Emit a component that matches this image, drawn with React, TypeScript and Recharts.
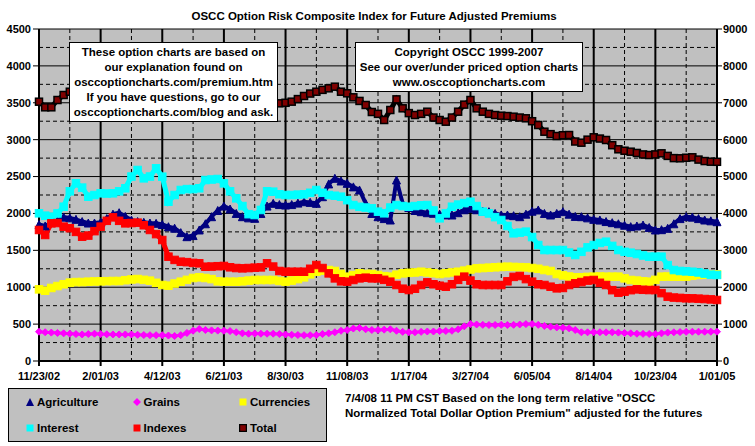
import React from 'react';
import { LineChart, Line, XAxis, YAxis, CartesianGrid } from 'recharts';

// Week index 0..110 (weekly, 11/23/02 .. 1/01/05); labels every 10 weeks
const tickLabels = ['11/23/02', '2/01/03', '4/12/03', '6/21/03', '8/30/03', '11/08/03', '1/17/04', '3/27/04', '6/05/04', '8/14/04', '10/23/04', '1/01/05'];

const agriculture = [
  1850, 1830, 1880, 1900, 1950, 1940, 1920, 1890, 1870, 1870,
  1880, 1930, 1990, 2010, 1960, 1910, 1890, 1880, 1870, 1866,
  1850, 1820, 1800, 1740, 1685, 1700, 1776, 1860, 1956, 2040,
  2100, 2060, 2000, 1956, 1940, 1934, 2000, 2100, 2137, 2120,
  2114, 2120, 2140, 2159, 2150, 2137, 2227, 2400, 2476, 2440,
  2408, 2360, 2318, 2137, 2000, 1956, 1930, 1911, 2453, 2137,
  2080, 2040, 2024, 2010, 2002, 1990, 1980, 1979, 2010, 2050,
  2069, 2050, 2030, 2024, 2000, 1980, 1979, 1970, 1956, 1990,
  2030, 2047, 2000, 1979, 2000, 2024, 1990, 1960, 1956, 1940,
  1920, 1910, 1890, 1875, 1860, 1840, 1821, 1830, 1843, 1810,
  1776, 1780, 1798, 1860, 1930, 1956, 1950, 1930, 1911, 1900,
  1888,
];

const grains = [
  397, 390, 385, 380, 375, 370, 365, 360, 365, 370,
  365, 362, 360, 360, 360, 360, 355, 352, 350, 350,
  350, 345, 339, 350, 380, 410, 434, 420, 415, 412,
  410, 405, 390, 375, 370, 372, 370, 370, 370, 365,
  360, 355, 352, 350, 350, 352, 365, 375, 390, 410,
  420, 440, 447, 430, 420, 420, 425, 430, 410, 395,
  389, 390, 395, 400, 400, 405, 407, 410, 430, 470,
  501, 495, 490, 488, 488, 490, 488, 490, 495, 500,
  501, 490, 475, 465, 455, 450, 443, 420, 389, 389,
  390, 390, 389, 389, 385, 380, 375, 370, 368, 366,
  366, 375, 385, 389, 392, 395, 397, 397, 397, 397,
  397,
];

const currencies = [
  971, 953, 990, 1016, 1040, 1062, 1070, 1070, 1075, 1078,
  1080, 1082, 1084, 1084, 1095, 1105, 1111, 1100, 1089, 1060,
  1030, 1021, 1050, 1075, 1100, 1125, 1134, 1125, 1110, 1080,
  1075, 1075, 1075, 1080, 1090, 1098, 1098, 1098, 1098, 1085,
  1075, 1090, 1110, 1134, 1175, 1210, 1225, 1233, 1220, 1180,
  1143, 1165, 1188, 1180, 1179, 1166, 1150, 1143, 1170, 1188,
  1195, 1200, 1210, 1200, 1190, 1179, 1190, 1200, 1210, 1225,
  1240, 1256, 1260, 1265, 1270, 1275, 1278, 1275, 1272, 1269,
  1260, 1250, 1233, 1220, 1179, 1160, 1145, 1134, 1135, 1140,
  1143, 1145, 1143, 1143, 1143, 1120, 1098, 1090, 1080, 1075,
  1100, 1143, 1145, 1143, 1143, 1143, 1155, 1166, 1170, 1172,
  1175,
];

const interest = [
  2002, 1970, 1956, 2000, 2091, 2300, 2408, 2350, 2227, 2250,
  2273, 2270, 2273, 2300, 2341, 2500, 2589, 2476, 2500, 2612,
  2498, 2159, 2250, 2318, 2330, 2330, 2341, 2453, 2460, 2467,
  2408, 2300, 2205, 2100, 1990, 1979, 2047, 2300, 2295, 2260,
  2250, 2250, 2255, 2259, 2280, 2318, 2280, 2250, 2240, 2227,
  2180, 2114, 2090, 2080, 2069, 2024, 2002, 2080, 2114, 2100,
  2091, 2100, 2110, 2114, 2040, 1934, 2000, 2091, 2120, 2140,
  2159, 2100, 2024, 2000, 1950, 1911, 1830, 1731, 1740, 1753,
  1680, 1572, 1504, 1504, 1504, 1504, 1470, 1437, 1480, 1540,
  1572, 1600, 1617, 1560, 1504, 1480, 1468, 1450, 1430, 1414,
  1414, 1414, 1300, 1233, 1220, 1215, 1210, 1200, 1185, 1170,
  1166,
];

const indexes = [
  1776, 1708, 1866, 1870, 1821, 1800, 1750, 1685, 1700, 1760,
  1821, 1900, 1947, 1900, 1866, 1870, 1875, 1840, 1776, 1720,
  1640, 1414, 1370, 1346, 1340, 1330, 1324, 1278, 1280, 1285,
  1288, 1270, 1260, 1256, 1260, 1265, 1269, 1324, 1280, 1220,
  1210, 1210, 1210, 1210, 1250, 1301, 1260, 1188, 1120, 1080,
  1075, 1098, 1120, 1129, 1120, 1120, 1100, 1075, 1030, 980,
  962, 980, 1030, 1066, 1040, 1020, 1007, 1040, 1100, 1143,
  1090, 1040, 1030, 1030, 1030, 1030, 1080, 1140, 1152, 1110,
  1075, 1040, 1030, 1007, 985, 990, 1030, 1053, 1070, 1090,
  1098, 1060, 1030, 960, 926, 940, 960, 971, 965, 962,
  962, 920, 872, 860, 855, 850, 849, 845, 840, 835,
  827,
];

const total = [
  7029, 6877, 6877, 7075, 7211, 7300, 7280, 7260, 7240, 7200,
  7180, 7150, 7120, 7100, 7080, 7060, 7040, 7020, 7010, 7000,
  7000, 7000, 7020, 7040, 7060, 7050, 7040, 7020, 7000, 6990,
  6980, 6990, 7000, 7010, 7000, 6990, 6985, 6985, 6985, 6985,
  7000, 7030, 7100, 7184, 7250, 7300, 7350, 7392, 7436, 7300,
  7257, 7148, 7050, 6940, 6750, 6700, 6533, 6804, 7093, 6850,
  6720, 6668, 6700, 6758, 6600, 6533, 6487, 6600, 6758, 6950,
  7075, 6850, 6758, 6700, 6668, 6650, 6640, 6623, 6600, 6579,
  6500, 6397, 6216, 6150, 6099, 6120, 6126, 5950, 5918, 6000,
  6064, 6030, 5991, 5850, 5739, 5700, 5674, 5640, 5600, 5584,
  5600, 5630, 5560, 5500, 5495, 5510, 5522, 5460, 5420, 5403,
  5400,
];

const leftTicks = [0, 500, 1000, 1500, 2000, 2500, 3000, 3500, 4000, 4500];
const leftMinor = [250, 750, 1250, 1750, 2250, 2750, 3250, 3750, 4250];
const rightTicks = [0, 1000, 2000, 3000, 4000, 5000, 6000, 7000, 8000, 9000];
const xMajor = [0, 10, 20, 30, 40, 50, 60, 70, 80, 90, 100, 110];
const xMinor = [5, 15, 25, 35, 45, 55, 65, 75, 85, 95, 105];

const data = agriculture.map((v, i) => ({
  week: i,
  agriculture: v,
  grains: grains[i],
  currencies: currencies[i],
  interest: interest[i],
  indexes: indexes[i],
  total: total[i],
}));

const FONT = '"Liberation Sans", Arial, sans-serif';

const squareDot = (fill: string, stroke: string, size: number, sw = 1) => (props: any) => {
  const { cx, cy, index } = props;
  if (cx == null || cy == null) return <g key={index} />;
  return <rect key={index} x={cx - size / 2} y={cy - size / 2} width={size} height={size} fill={fill} stroke={stroke} strokeWidth={sw} />;
};
const triangleDot = (fill: string, size: number) => (props: any) => {
  const { cx, cy, index } = props;
  if (cx == null || cy == null) return <g key={index} />;
  const h = size / 2;
  return <polygon key={index} points={`${cx},${cy - h} ${cx + h},${cy + h} ${cx - h},${cy + h}`} fill={fill} stroke={fill} />;
};
const diamondDot = (fill: string, size: number) => (props: any) => {
  const { cx, cy, index } = props;
  if (cx == null || cy == null) return <g key={index} />;
  const h = size / 2;
  return <polygon key={index} points={`${cx},${cy - h} ${cx + h},${cy} ${cx},${cy + h} ${cx - h},${cy}`} fill={fill} stroke={fill} />;
};

const legendItems = [
  { name: 'Agriculture', shape: 'tri', color: '#000080', col: 0, row: 0 },
  { name: 'Grains', shape: 'dia', color: '#FF00FF', col: 1, row: 0 },
  { name: 'Currencies', shape: 'sq', color: '#FFFF00', col: 2, row: 0 },
  { name: 'Interest', shape: 'sq', color: '#00FFFF', col: 0, row: 1 },
  { name: 'Indexes', shape: 'sq', color: '#FF0000', col: 1, row: 1 },
  { name: 'Total', shape: 'tot', color: '#800000', col: 2, row: 1 },
];

const LegendMarker = ({ shape, color }: { shape: string; color: string }) => (
  <svg width={8} height={8} style={{ display: 'block' }}>
    {shape === 'tri' && <polygon points="4,0 8,8 0,8" fill={color} />}
    {shape === 'dia' && <polygon points="4,0 8,4 4,8 0,4" fill={color} />}
    {shape === 'sq' && <rect x={0.5} y={0.5} width={7} height={7} fill={color} />}
    {shape === 'tot' && <rect x={0.5} y={0.5} width={7} height={7} fill={color} stroke="#000" strokeWidth={1.5} />}
  </svg>
);

const textStyle: React.CSSProperties = { fontFamily: FONT, fontWeight: 'bold', color: '#000', whiteSpace: 'nowrap' };

export default function App() {
  const tickStyle = { fontFamily: FONT, fontWeight: 'bold', fontSize: 11, fill: '#000' } as any;
  return (
    <div style={{ position: 'absolute', left: 0, top: 0, width: 755, height: 446, background: '#fff', overflow: 'hidden' }}>
      <LineChart width={755} height={446} data={data} margin={{ top: 29, right: 0, bottom: 55, left: 0 }}>
        <CartesianGrid yAxisId="left" fill="#C0C0C0" stroke="#000" strokeDasharray="4 3" horizontalValues={leftMinor} verticalValues={xMinor} />
        <CartesianGrid yAxisId="left" fill="none" stroke="#000" horizontalValues={leftTicks} vertical={false} />
        <CartesianGrid yAxisId="left" fill="none" stroke="#000" strokeWidth={2} verticalValues={xMajor} horizontal={false} />
        <XAxis
          dataKey="week"
          type="number"
          domain={[0, 110]}
          ticks={xMajor}
          interval={0}
          height={30}
          tickSize={5}
          tickMargin={6}
          axisLine={{ stroke: '#000', strokeWidth: 2 }}
          tickLine={{ stroke: '#000', strokeWidth: 2 }}
          tick={tickStyle}
          tickFormatter={(v: number) => tickLabels[Math.round(v / 10)] ?? ''}
        />
        <YAxis
          yAxisId="left"
          domain={[0, 4500]}
          ticks={leftTicks}
          interval={0}
          width={39}
          tickSize={6}
          tickMargin={2}
          axisLine={{ stroke: '#000', strokeWidth: 2 }}
          tickLine={{ stroke: '#000' }}
          tick={tickStyle}
        />
        <YAxis
          yAxisId="right"
          orientation="right"
          domain={[0, 9000]}
          ticks={rightTicks}
          interval={0}
          width={38}
          tickSize={5}
          tickMargin={1}
          axisLine={{ stroke: '#000', strokeWidth: 2 }}
          tickLine={{ stroke: '#000' }}
          tick={tickStyle}
        />
        <Line yAxisId="left" dataKey="agriculture" stroke="#000080" strokeWidth={4} dot={triangleDot('#000080', 8)} isAnimationActive={false} />
        <Line yAxisId="left" dataKey="grains" stroke="#FF00FF" strokeWidth={3} dot={diamondDot('#FF00FF', 7)} isAnimationActive={false} />
        <Line yAxisId="left" dataKey="currencies" stroke="#FFFF00" strokeWidth={5} dot={squareDot('#FFFF00', '#FFFF00', 7.5)} isAnimationActive={false} />
        <Line yAxisId="left" dataKey="interest" stroke="#00FFFF" strokeWidth={5} dot={squareDot('#00FFFF', '#00FFFF', 7.5)} isAnimationActive={false} />
        <Line yAxisId="left" dataKey="indexes" stroke="#FF0000" strokeWidth={5} dot={squareDot('#FF0000', '#FF0000', 7.5)} isAnimationActive={false} />
        <Line yAxisId="right" dataKey="total" stroke="#000" strokeWidth={5} dot={squareDot('#800000', '#000', 7, 1.5)} isAnimationActive={false} />
      </LineChart>

      {/* Title */}
      <div style={{ ...textStyle, position: 'absolute', left: 0, width: 748, top: 9, textAlign: 'center', fontSize: 11.5, lineHeight: '14px' }}>
        OSCC Option Risk Composite Index for Future Adjusted Premiums
      </div>

      {/* Text box 1 */}
      <div style={{ ...textStyle, position: 'absolute', left: 69, top: 42, width: 207, height: 76, background: '#fff', border: '1px solid #000', textAlign: 'center', fontSize: 11.5, lineHeight: '15px', paddingTop: 2, boxSizing: 'content-box' }}>
        These option charts are based on<br />
        our explanation found on<br />
        osccoptioncharts.com/premium.htm<br />
        If you have questions, go to our<br />
        osccoptioncharts.com/blog and ask.
      </div>

      {/* Text box 2 */}
      <div style={{ ...textStyle, position: 'absolute', left: 355, top: 42, width: 226, height: 46, background: '#fff', border: '1px solid #000', textAlign: 'center', fontSize: 11.5, lineHeight: '15px', paddingTop: 2, boxSizing: 'content-box' }}>
        Copyright OSCC 1999-2007<br />
        See our over/under priced option charts<br />
        www.osccoptioncharts.com
      </div>

      {/* Legend */}
      <div style={{ position: 'absolute', left: 8, top: 388, width: 317, height: 52, background: '#C0C0C0', border: '1px solid #000' }}>
        {legendItems.map((it) => (
          <div key={it.name} style={{ position: 'absolute', left: 17 + it.col * 106.5, top: it.row === 0 ? 5 : 31, height: 16, display: 'flex', alignItems: 'center' }}>
            <LegendMarker shape={it.shape} color={it.color} />
            <span style={{ ...textStyle, fontSize: 11.5, marginLeft: 3 }}>{it.name}</span>
          </div>
        ))}
      </div>

      {/* Caption */}
      <div style={{ ...textStyle, position: 'absolute', left: 345, top: 391, fontSize: 11.5, lineHeight: '14.5px' }}>
        7/4/08 11 PM CST Based on the long term relative "OSCC<br />
        Normalized Total Dollar Option Premium" adjusted for the futures
      </div>
    </div>
  );
}
